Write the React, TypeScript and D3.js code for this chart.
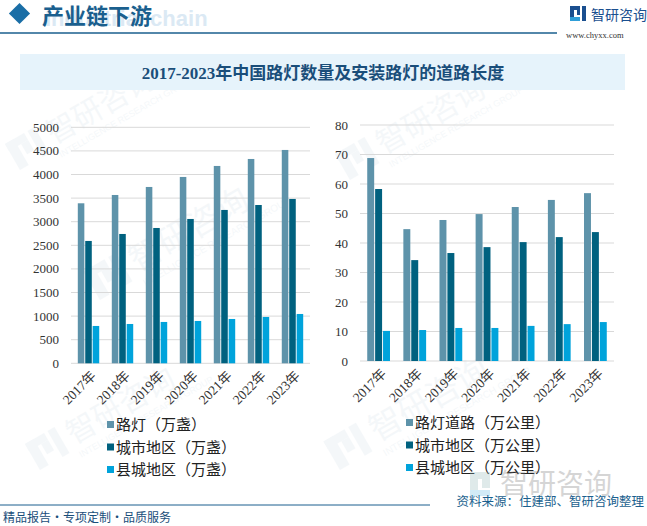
import React from 'react';
import * as d3 from 'd3';

// 年份
const years = ['2017年', '2018年', '2019年', '2020年', '2021年', '2022年', '2023年'];

// 左图：路灯数量（万盏）
const leftSeries = ['路灯（万盏）', '城市地区（万盏）', '县城地区（万盏）'];
const lampTotal = [3390, 3566, 3736, 3948, 4181, 4329, 4520];
const lampCity = [2592, 2740, 2867, 3058, 3249, 3354, 3482];
const lampCounty = [791, 833, 876, 897, 939, 982, 1045];
const leftTicks = [0, 500, 1000, 1500, 2000, 2500, 3000, 3500, 4000, 4500, 5000];

// 右图：安装路灯的道路长度（万公里）
const rightSeries = ['路灯道路（万公里）', '城市地区（万公里）', '县城地区（万公里）'];
const roadTotal = [68.8, 44.7, 47.8, 49.8, 52.2, 54.6, 56.9];
const roadCity = [58.3, 34.2, 36.6, 38.6, 40.3, 42.0, 43.7];
const roadCounty = [10.2, 10.5, 11.2, 11.2, 11.9, 12.5, 13.2];
const rightTicks = [0, 10, 20, 30, 40, 50, 60, 70, 80];

const colors = ['#5e93aa', '#00617f', '#00a3db'];
const FONT = '"Liberation Serif", "Noto Sans CJK SC", serif';
const CJK = '"Noto Sans CJK SC", sans-serif';

interface PanelProps {
  x0: number;
  x1: number;
  yTop: number;
  yBottom: number;
  max: number;
  ticks: number[];
  series: string[];
  values: number[][];
  legendX: number;
  legendY: number;
}

const Panel: React.FC<PanelProps> = ({ x0, x1, yTop, yBottom, max, ticks, series, values, legendX, legendY }) => {
  const y = d3.scaleLinear().domain([0, max]).range([yBottom, yTop]);
  const xg = d3.scaleBand<string>().domain(years).range([x0, x1]).paddingInner(0.37).paddingOuter(0.2);
  const xs = d3.scaleBand<string>().domain(series).range([0, xg.bandwidth()]).paddingInner(0.12);

  return (
    <g>
      {ticks.map(t => (
        <g key={t}>
          <line x1={x0} x2={x1} y1={y(t)} y2={y(t)} stroke="#d9d9d9" strokeWidth={1} />
          <text x={x0 - 12} y={y(t)} dy="0.35em" textAnchor="end" fontSize={13} fill="#333" fontFamily={FONT}>{t}</text>
        </g>
      ))}
      {years.map((yr, i) => (
        <g key={yr}>
          {series.map((s, j) => {
            const v = values[j][i];
            return (
              <rect
                key={s}
                x={(xg(yr) ?? 0) + (xs(s) ?? 0)}
                y={y(v)}
                width={xs.bandwidth()}
                height={yBottom - y(v)}
                fill={colors[j]}
              />
            );
          })}
          <text
            transform={`translate(${(xg(yr) ?? 0) + xg.bandwidth() / 2 + 5},${yBottom + 10}) rotate(-45)`}
            textAnchor="end"
            dy="0.35em"
            fontSize={13.5}
            fill="#333"
            fontFamily={FONT}
          >{yr}</text>
        </g>
      ))}
      {series.map((s, j) => (
        <g key={s} transform={`translate(${legendX},${legendY + j * 22.5})`}>
          <rect x={0} y={-4} width={7} height={7} fill={colors[j]} />
          <text x={9} y={0} dy="0.35em" fontSize={15} fill="#222" fontFamily={CJK}>{s}</text>
        </g>
      ))}
    </g>
  );
};

const Watermark: React.FC<{ x: number; y: number; r?: number; s?: number; o?: number }> = ({ x, y, r = -30, s = 1, o = 0.045 }) => (
  <g transform={`translate(${x},${y}) rotate(${r}) scale(${s})`} opacity={o} fill="#1a5f8e">
    <rect x={0} y={-30} width={10} height={30} />
    <rect x={0} y={-30} width={22} height={8} />
    <rect x={14} y={-22} width={8} height={12} />
    <rect x={26} y={-30} width={8} height={30} />
    <text x={42} y={-5} fontSize={30} fontFamily={CJK}>智研咨询</text>
    <text x={42} y={10} fontSize={9} fontFamily="Liberation Sans">INTELLIGENCE RESEARCH GROUP</text>
  </g>
);

export default function App() {
  return (
    <svg
      width={647}
      height={526}
      style={{ position: 'absolute', left: 0, top: 0, background: '#fff' }}
    >
      <rect width={647} height={526} fill="#fff" />

      {/* 背景水印 */}
      <Watermark x={20} y={170} />
      <Watermark x={100} y={300} s={1.1} />
      <Watermark x={350} y={180} />
      <Watermark x={340} y={470} s={1.1} />
      <Watermark x={40} y={470} />

      {/* 顶部标题栏 */}
      <text x={45} y={26} fontSize={22} fontWeight="bold" fill="#dbe9f4" fontFamily='"Liberation Sans", sans-serif'>Industrial chain</text>
      <rect x={12} y={6} width={15} height={15} fill="#1a6ea6" transform="rotate(45 19.5 13.5)" />
      <text x={42} y={24} fontSize={22} fill="#1a5f8e" fontFamily={CJK} fontWeight="bold">产业链下游</text>
      <line x1={0} x2={557} y1={33} y2={33} stroke="#1a5f8e" strokeWidth={1.5} />
      <g fill="#1a4f8f">
        <rect x={570} y={6} width={4} height={15} />
        <rect x={570} y={6} width={10} height={4} />
        <rect x={577} y={9} width={3} height={6} />
        <rect x={582} y={6} width={4} height={15} />
        <rect x={570} y={17} width={10} height={4} fill="#2f9ed8" />
      </g>
      <text x={591} y={20} fontSize={14} fill="#1a4f8f" fontFamily={CJK}>智研咨询</text>
      <text x={566} y={38} fontSize={8.5} fill="#333" fontFamily={FONT}>www.chyxx.com</text>

      {/* 图表标题 */}
      <rect x={20} y={54} width={605} height={36} fill="#e6f3fb" />
      <text x={323} y={73} dy="0.35em" textAnchor="middle" fontSize={17} fontWeight="bold" fill="#1a4e7a" fontFamily={FONT}>
        2017-2023年中国路灯数量及安装路灯的道路长度
      </text>

      <Panel
        x0={71}
        x1={310}
        yTop={127.3}
        yBottom={363.3}
        max={5000}
        ticks={leftTicks}
        series={leftSeries}
        values={[lampTotal, lampCity, lampCounty]}
        legendX={107}
        legendY={425}
      />
      <Panel
        x0={360}
        x1={614}
        yTop={125}
        yBottom={361}
        max={80}
        ticks={rightTicks}
        series={rightSeries}
        values={[roadTotal, roadCity, roadCounty]}
        legendX={406}
        legendY={423}
      />

      {/* 右下角 logo 水印 */}
      <g opacity={0.3}>
        <rect x={470} y={472} width={8} height={24} fill="#9bb" />
        <rect x={470} y={472} width={20} height={7} fill="#9bb" />
        <rect x={482} y={478} width={8} height={10} fill="#9bb" />
        <rect x={470} y={490} width={20} height={6} fill="#6cc0e8" />
        <text x={500} y={494} fontSize={28} fill="#777" fontFamily={CJK}>智研咨询</text>
      </g>

      {/* 底部 */}
      <line x1={0} x2={430} y1={505} y2={505} stroke="#1a5f8e" strokeWidth={1} />
      <text x={644} y={506} textAnchor="end" fontSize={12.5} fill="#1a5f8e" fontFamily={CJK}>资料来源：住建部、智研咨询整理</text>
      <text x={3} y={522} fontSize={12} fill="#1a4e7a" fontFamily={CJK}>精品报告・专项定制・品质服务</text>
    </svg>
  );
}
